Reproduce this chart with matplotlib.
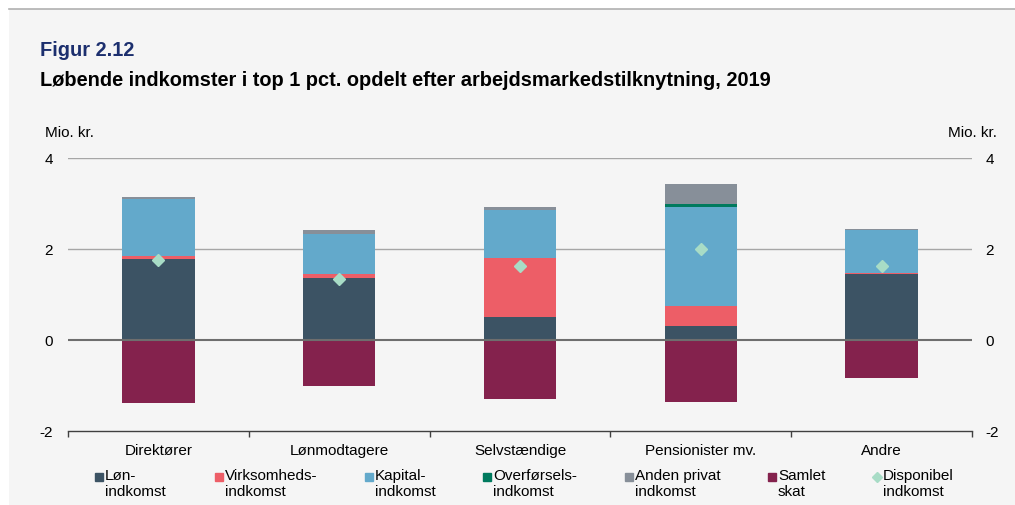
import matplotlib
matplotlib.use("Agg")
import matplotlib.pyplot as plt
import numpy as np
from matplotlib.lines import Line2D
from matplotlib.patches import Rectangle

plt.rcParams['font.family'] = ['Liberation Sans', 'DejaVu Sans']

# data (mio. kr.)
categories = ['Direktører', 'Lønmodtagere', 'Selvstændige', 'Pensionister mv.', 'Andre']
loen = [1.79, 1.36, 0.51, 0.31, 1.44]
virksomhed = [0.05, 0.09, 1.29, 0.44, 0.03]
kapital = [1.26, 0.88, 1.06, 2.17, 0.94]
overfoersel = [0.005, 0.00, 0.00, 0.08, 0.00]
anden_privat = [0.04, 0.09, 0.06, 0.42, 0.03]
skat = [-1.38, -1.00, -1.30, -1.37, -0.84]
disponibel = [1.75, 1.33, 1.62, 2.01, 1.62]

series = [
    ('Løn-\nindkomst', loen, '#3c5364'),
    ('Virksomheds-\nindkomst', virksomhed, '#ed5e67'),
    ('Kapital-\nindkomst', kapital, '#63a9cb'),
    ('Overførsels-\nindkomst', overfoersel, '#007a5e'),
    ('Anden privat\nindkomst', anden_privat, '#878f99'),
]
skat_color = '#84224d'
disp_color = '#a8dcc6'

W, H = 1015, 506
fig = plt.figure(figsize=(W / 100, H / 100), dpi=100)
fig.patch.set_facecolor('white')

# light grey panel with a rule on top
fig.add_artist(Rectangle((9 / W, 0), 1 - 9 / W, 1 - 10 / H, transform=fig.transFigure,
                         facecolor='#f5f5f5', edgecolor='none', zorder=-10))
fig.add_artist(Line2D([9 / W, 1], [1 - 10 / H, 1 - 10 / H], transform=fig.transFigure,
                      color='#b0b0b0', lw=1.2))

fig.text(40 / W, 1 - 50 / H, 'Figur 2.12', color='#1c2f6e', fontsize=14.4,
         fontweight='bold', va='center', ha='left')
fig.text(40 / W, 1 - 80 / H, 'Løbende indkomster i top 1 pct. opdelt efter arbejdsmarkedstilknytning, 2019',
         color='black', fontsize=14.4, fontweight='bold', va='center', ha='left')

ax = fig.add_axes([68 / W, 1 - 432 / H, (972 - 68) / W, (432 - 159) / H])
ax.set_facecolor('none')

x = np.arange(len(categories))
width = 0.4
bottom = np.zeros(len(categories))
for label, vals, col in series:
    ax.bar(x, vals, width, bottom=bottom, color=col, zorder=2)
    bottom = bottom + np.array(vals)
ax.bar(x, skat, width, color=skat_color, zorder=2)
ax.plot(x, disponibel, linestyle='none', marker='D', markersize=6,
        color=disp_color, zorder=4)

ax.set_xlim(-0.5, len(categories) - 0.5)
ax.set_ylim(-2, 4)
ax.set_yticks([-2, 0, 2, 4])
for yv in [2, 4]:
    ax.axhline(yv, color='#a6a6a6', lw=1, zorder=1)
ax.axhline(0, color='#6e6e6e', lw=1.5, zorder=3)

for s in ['top', 'left', 'right']:
    ax.spines[s].set_visible(False)
ax.spines['bottom'].set_color('#404040')
ax.spines['bottom'].set_linewidth(1)

ax.set_xticks(x)
ax.set_xticklabels(categories, fontsize=11)
ax.tick_params(axis='x', length=0, pad=9)
ax.set_xticks(np.arange(-0.5, len(categories)), minor=True)
ax.tick_params(axis='x', which='minor', length=4, color='#404040', width=1)

ax.set_yticklabels(['-2', '0', '2', '4'])
ax.tick_params(axis='y', length=0, labelsize=11, pad=11)

axr = ax.twinx()
axr.set_ylim(ax.get_ylim())
axr.set_yticks([-2, 0, 2, 4])
axr.set_yticklabels(['-2', '0', '2', '4'])
axr.tick_params(axis='y', length=0, labelsize=11, pad=9.5)
for s in axr.spines.values():
    s.set_visible(False)

fig.text(45 / W, 1 - 133 / H, 'Mio. kr.', fontsize=11, va='center', ha='left')
fig.text(997 / W, 1 - 133 / H, 'Mio. kr.', fontsize=11, va='center', ha='right')

# legend, laid out by hand
leg_labels = [s[0] for s in series] + ['Samlet\nskat', 'Disponibel\nindkomst']
leg_colors = [s[2] for s in series] + [skat_color, disp_color]
leg_markers = ['s'] * 6 + ['D']
leg_x = [99, 219, 369, 487, 629, 772, 877]
for lx, lab, col, mk in zip(leg_x, leg_labels, leg_colors, leg_markers):
    fig.add_artist(Line2D([lx / W], [1 - 478 / H], transform=fig.transFigure,
                          marker=mk, markersize=5.5,
                          color=col, linestyle='none'))
    fig.text((lx + 6) / W, 1 - 469 / H, lab, fontsize=11, va='top', ha='left',
             linespacing=1.2)

fig.savefig('out.png', dpi=100, facecolor=fig.get_facecolor())
